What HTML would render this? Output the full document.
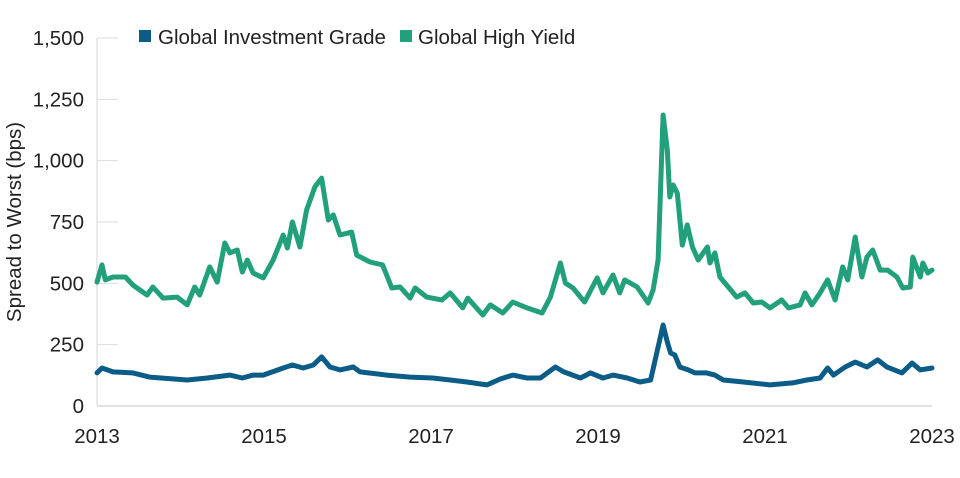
<!DOCTYPE html>
<html><head><meta charset="utf-8"><style>
html,body{margin:0;padding:0;background:#fff;}
svg text{font-family:"Liberation Sans",Arial,sans-serif;fill:#222;}
</style></head><body>
<svg id="chart" width="960" height="473" viewBox="0 0 960 473" xmlns="http://www.w3.org/2000/svg">
<g id="grid"></g>
<g id="yticks"></g>
<g id="xticks"></g>
<text transform="translate(21,222) rotate(-90)" text-anchor="middle" font-size="20.5">Spread to Worst (bps)</text>
<g>
 <g>
  <rect x="139" y="30" width="12" height="12" fill="#0b5c87"/>
  <text x="158" y="44" font-size="20.5">Global Investment Grade</text>
 </g>
 <g>
  <rect x="400" y="30" width="12" height="12" fill="#22a07b"/>
  <text x="418" y="44" font-size="20.5">Global High Yield</text>
 </g>
</g>
<g id="series"></g>
</svg>
<script>
const yTicks=[0,250,500,750,1000,1250,1500];
const yTickLabels=["0","250","500","750","1,000","1,250","1,500"];
const xTicks=[2013,2015,2017,2019,2021,2023];
const xTickLabels=["2013","2015","2017","2019","2021","2023"];
const hyYears=[2013.0,2013.06,2013.10,2013.19,2013.34,2013.43,2013.60,2013.67,2013.79,2013.96,2014.08,2014.17,2014.23,2014.35,2014.44,2014.53,2014.59,2014.68,2014.74,2014.80,2014.87,2014.99,2015.11,2015.23,2015.28,2015.34,2015.43,2015.51,2015.61,2015.69,2015.77,2015.83,2015.91,2016.05,2016.11,2016.27,2016.42,2016.53,2016.63,2016.75,2016.81,2016.95,2017.13,2017.23,2017.38,2017.44,2017.62,2017.71,2017.86,2017.98,2018.15,2018.33,2018.43,2018.55,2018.61,2018.70,2018.84,2018.99,2019.06,2019.18,2019.26,2019.32,2019.47,2019.60,2019.66,2019.72,2019.78,2019.83,2019.86,2019.90,2019.95,2020.01,2020.07,2020.13,2020.20,2020.31,2020.34,2020.40,2020.46,2020.56,2020.66,2020.76,2020.86,2020.96,2021.06,2021.20,2021.28,2021.42,2021.48,2021.56,2021.66,2021.75,2021.84,2021.93,2021.99,2022.08,2022.16,2022.22,2022.29,2022.38,2022.47,2022.58,2022.65,2022.74,2022.77,2022.86,2022.89,2022.95,2023.0];
const hyValues=[505,575,514,526,526,493,452,485,440,444,412,485,452,567,505,665,624,636,546,595,542,522,595,697,644,750,648,799,893,929,758,779,697,709,615,587,575,481,485,440,481,444,432,461,400,440,371,412,379,424,400,379,444,583,501,481,424,522,461,534,461,514,485,420,473,595,1186,1044,852,901,868,656,738,648,595,648,583,624,526,485,444,461,420,424,400,432,400,412,461,412,461,514,432,567,514,689,526,607,636,554,554,526,481,485,607,526,583,542,554];
const igYears=[2013.0,2013.06,2013.19,2013.43,2013.63,2014.08,2014.32,2014.59,2014.74,2014.87,2014.99,2015.23,2015.34,2015.47,2015.59,2015.69,2015.79,2015.91,2016.07,2016.15,2016.47,2016.75,2017.02,2017.23,2017.43,2017.67,2017.83,2017.98,2018.15,2018.31,2018.49,2018.59,2018.79,2018.91,2019.06,2019.18,2019.35,2019.50,2019.63,2019.78,2019.83,2019.87,2019.92,2019.98,2020.08,2020.16,2020.30,2020.40,2020.50,2020.74,2021.06,2021.33,2021.50,2021.66,2021.75,2021.82,2021.96,2022.08,2022.22,2022.35,2022.46,2022.64,2022.76,2022.86,2023.0];
const igValues=[135,155,139,135,118,106,114,126,114,126,126,155,167,155,167,200,159,147,159,139,126,118,114,106,98,86,110,126,114,114,159,139,114,135,114,126,114,98,106,330,261,216,208,159,147,135,135,126,106,98,86,94,106,114,155,126,159,179,159,188,159,135,175,147,155];

const X0=97,X1=932,Y0=406,Y1=38;
const xScale=v=>X0+(v-2013)/(2023-2013)*(X1-X0);
const yScale=v=>Y0-v/1500*(Y0-Y1);
const NS="http://www.w3.org/2000/svg";
const grid=document.getElementById('grid'),yt=document.getElementById('yticks'),xt=document.getElementById('xticks'),ser=document.getElementById('series');
yTicks.forEach((t,i)=>{
  const l=document.createElementNS(NS,'line');
  
  
  l.setAttribute('x1',X0);l.setAttribute('x2',118);
  l.setAttribute('y1',yScale(t));l.setAttribute('y2',yScale(t));
  l.setAttribute('stroke','#dcdde0');l.setAttribute('stroke-width','1');
  grid.appendChild(l);
  const tx=document.createElementNS(NS,'text');
  
  
  tx.setAttribute('x',84);tx.setAttribute('y',yScale(t)+7);
  tx.setAttribute('text-anchor','end');tx.setAttribute('font-size','20.5');
  tx.textContent=yTickLabels[i];
  yt.appendChild(tx);
});
const ax=document.createElementNS(NS,'line');


ax.setAttribute('x1',X0);ax.setAttribute('x2',X0);ax.setAttribute('y1',Y1);ax.setAttribute('y2',Y0);
ax.setAttribute('stroke','#dcdde0');ax.setAttribute('stroke-width','1.2');
grid.appendChild(ax);
const bx=document.createElementNS(NS,'line');


bx.setAttribute('x1',X0);bx.setAttribute('x2',X1);bx.setAttribute('y1',Y0);bx.setAttribute('y2',Y0);
bx.setAttribute('stroke','#cfd2d6');bx.setAttribute('stroke-width','1.2');
grid.appendChild(bx);
xTicks.forEach((t,i)=>{
  const tx=document.createElementNS(NS,'text');
  
  
  tx.setAttribute('x',xScale(t));tx.setAttribute('y',443);
  tx.setAttribute('text-anchor','middle');tx.setAttribute('font-size','20.5');
  tx.textContent=xTickLabels[i];
  xt.appendChild(tx);
});
function drawLine(xs,vs,color,name){
  const p=document.createElementNS(NS,'path');
  
  
  p.setAttribute('d',xs.map((x,i)=>(i?'L':'M')+xScale(x).toFixed(1)+','+yScale(vs[i]).toFixed(1)).join(''));
  p.setAttribute('fill','none');p.setAttribute('stroke',color);
  p.setAttribute('stroke-width','5');p.setAttribute('stroke-linejoin','round');p.setAttribute('stroke-linecap','round');
  ser.appendChild(p);
}
drawLine(hyYears,hyValues,'#22a07b','high-yield-line');
drawLine(igYears,igValues,'#0b5c87','investment-grade-line');
</script>
</body></html>
